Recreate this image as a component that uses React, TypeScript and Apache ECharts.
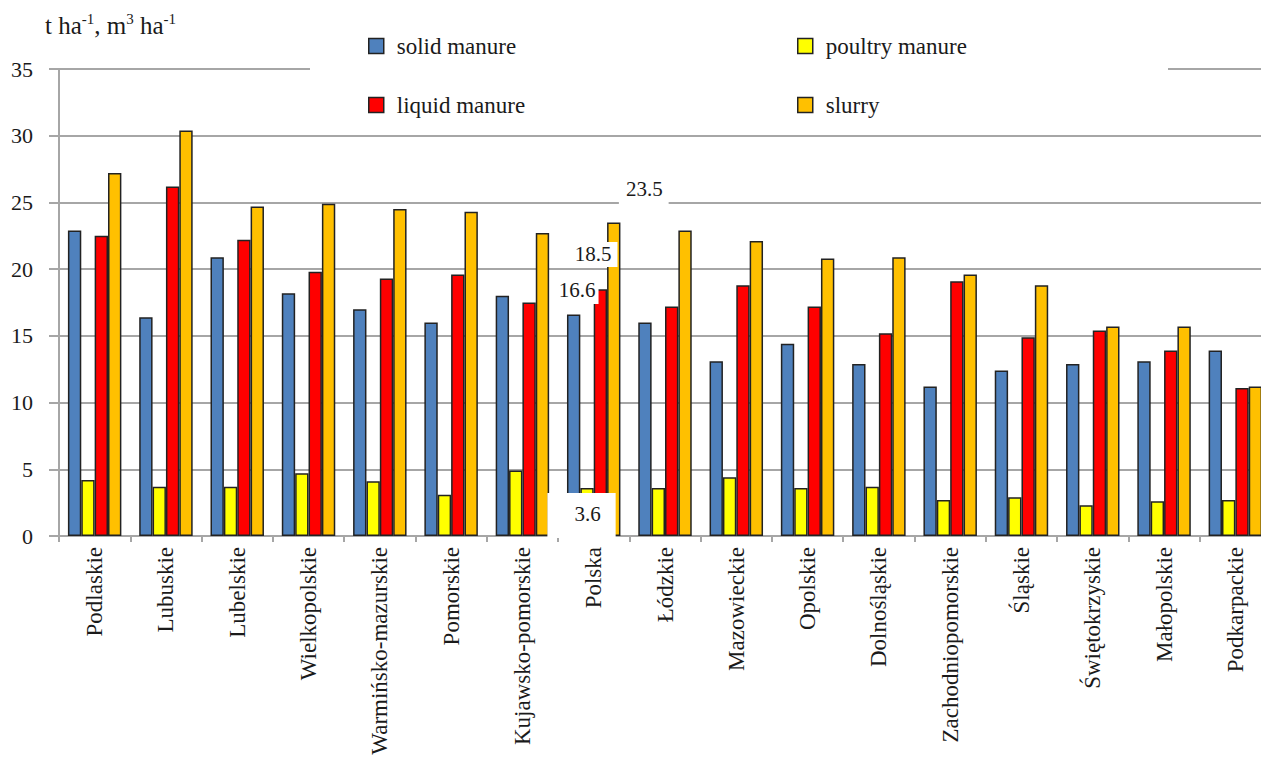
import React, { useEffect, useRef } from "react";
import * as echarts from "echarts";

const categories = [
  "Podlaskie", "Lubuskie", "Lubelskie", "Wielkopolskie", "Warmińsko-mazurskie",
  "Pomorskie", "Kujawsko-pomorskie", "Polska", "Łódzkie", "Mazowieckie", "Opolskie",
  "Dolnośląskie", "Zachodniopomorskie", "Śląskie", "Świętokrzyskie", "Małopolskie", "Podkarpackie",
];
const solidManure = [22.9, 16.4, 20.9, 18.2, 17.0, 16.0, 18.0, 16.6, 16.0, 13.1, 14.4, 12.9, 11.2, 12.4, 12.9, 13.1, 13.9];
const poultryManure = [4.2, 3.7, 3.7, 4.7, 4.1, 3.1, 4.9, 3.6, 3.6, 4.4, 3.6, 3.7, 2.7, 2.9, 2.3, 2.6, 2.7];
const liquidManure = [22.5, 26.2, 22.2, 19.8, 19.3, 19.6, 17.5, 18.5, 17.2, 18.8, 17.2, 15.2, 19.1, 14.9, 15.4, 13.9, 11.1];
const slurry = [27.2, 30.4, 24.7, 24.9, 24.5, 24.3, 22.7, 23.5, 22.9, 22.1, 20.8, 20.9, 19.6, 18.8, 15.7, 15.7, 11.2];
const yTicks = [0, 5, 10, 15, 20, 25, 30, 35];

const FONT = "Liberation Serif, Times New Roman, serif";
const GRID_COLOR = "#a6a6a6";
const TEXT_COLOR = "#1a1a1a";
const HIGHLIGHT = "Polska";

export default function App() {
  const ref = useRef<HTMLDivElement>(null);
  useEffect(() => {
    if (!ref.current) return;
    const chart = echarts.init(ref.current, undefined, { renderer: "svg" });
    const hi = categories.indexOf(HIGHLIGHT);

    const baseLabel = {
      show: true,
      color: TEXT_COLOR,
      fontFamily: FONT,
      fontSize: 21,
      lineHeight: 21,
      backgroundColor: "#ffffff",
      distance: 0,
    };
    const withLabel = (arr: number[], label: any) =>
      arr.map((v, i) => (i === hi ? { value: v, label: { ...baseLabel, ...label } } : v));

    const barStyle = (color: string) => ({ color, borderColor: "#222", borderWidth: 1.5 });

    const series = [
      {
        name: "solid manure",
        type: "bar",
        data: withLabel(solidManure, { position: "top", offset: [3, -10.6], padding: [3, 3, 3, 4] }),
        itemStyle: barStyle("#4f81bd"),
      },
      {
        name: "poultry manure",
        type: "bar",
        data: withLabel(poultryManure, { position: "insideBottom", offset: [-5.5, 2], padding: [10, 15, 14, 27] }),
        itemStyle: barStyle("#ffff00"),
      },
      {
        name: "liquid manure",
        type: "bar",
        data: withLabel(liquidManure, { position: "top", offset: [-7.3, -22.2], padding: [2, 6, 2, 6] }),
        itemStyle: barStyle("#ff0000"),
      },
      {
        name: "slurry",
        type: "bar",
        data: withLabel(slurry, { position: "top", offset: [30, -18.5], padding: [3, 6, 4, 7] }),
        itemStyle: barStyle("#ffc000"),
      },
    ].map((s) => ({ ...s, barGap: "0%", barCategoryGap: "25%", label: { show: false } }));

    const legendCommon = {
      orient: "vertical",
      top: 34.5,
      padding: 0,
      itemGap: 36,
      itemWidth: 15,
      itemHeight: 15,
      icon: "rect",
      itemStyle: { borderColor: "#222", borderWidth: 1.5 },
      textStyle: {
        fontFamily: FONT,
        fontSize: 23,
        lineHeight: 22,
        color: TEXT_COLOR,
        padding: [0, 0, 0, 8],
      },
    };

    chart.setOption({
      animation: false,
      backgroundColor: "#ffffff",
      textStyle: { fontFamily: FONT },
      title: {
        left: 45,
        top: 11,
        padding: 0,
        text: "t ha{sup|-1}, m{sup|3} ha{sup|-1}",
        textStyle: {
          fontFamily: FONT,
          fontSize: 25,
          fontWeight: "normal",
          color: TEXT_COLOR,
          lineHeight: 28,
          rich: {
            sup: {
              fontFamily: FONT,
              fontSize: 15,
              lineHeight: 24,
              verticalAlign: "top",
              color: TEXT_COLOR,
            },
          },
        },
      },
      legend: [
        { ...legendCommon, left: 368, data: ["solid manure", "liquid manure"] },
        { ...legendCommon, left: 797, data: ["poultry manure", "slurry"] },
      ],
      graphic: [
        {
          type: "rect",
          left: 310,
          top: 60,
          z: 1,
          shape: { width: 858, height: 20 },
          style: { fill: "#ffffff" },
        },
      ],
      grid: { left: 59, right: -10, top: 69, bottom: 226, containLabel: false, outerBoundsMode: "none" },
      xAxis: {
        type: "category",
        data: categories,
        axisLine: { show: true, lineStyle: { color: GRID_COLOR, width: 2 } },
        axisTick: { show: true, length: 6, lineStyle: { color: GRID_COLOR, width: 2 } },
        axisLabel: {
          rotate: 90,
          interval: 0,
          margin: 11,
          fontFamily: FONT,
          fontSize: 23,
          color: TEXT_COLOR,
        },
      },
      yAxis: {
        type: "value",
        min: yTicks[0],
        max: yTicks[yTicks.length - 1],
        interval: yTicks[1] - yTicks[0],
        axisLine: { show: true, lineStyle: { color: GRID_COLOR, width: 2 } },
        axisTick: { show: true, length: 10, lineStyle: { color: GRID_COLOR, width: 2 } },
        splitLine: { show: true, lineStyle: { color: GRID_COLOR, width: 2 } },
        axisLabel: {
          margin: 26,
          fontFamily: FONT,
          fontSize: 22,
          color: TEXT_COLOR,
        },
      },
      series,
    });
    return () => chart.dispose();
  }, []);
  return (
    <div
      ref={ref}
      style={{ position: "absolute", left: 0, top: 0, width: 1261, height: 762, background: "#fff" }}
    />
  );
}
